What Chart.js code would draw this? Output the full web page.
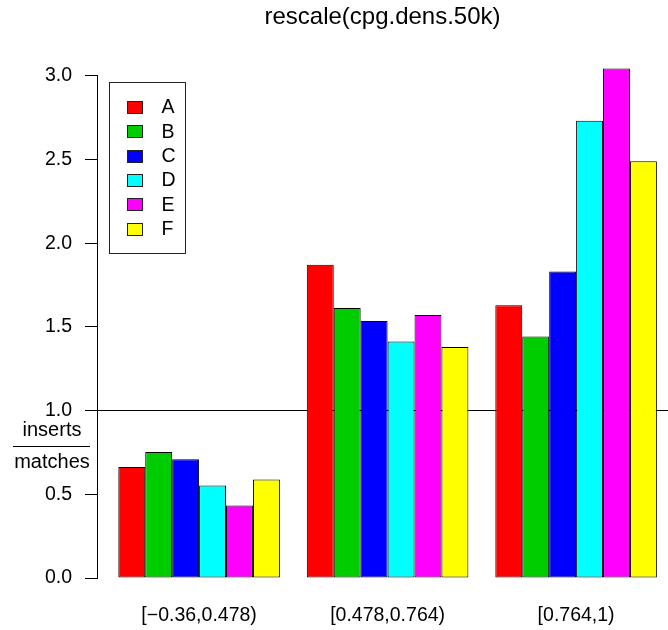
<!DOCTYPE html>
<html>
<head>
<meta charset="utf-8">
<title>rescale(cpg.dens.50k)</title>
<script src="https://cdn.jsdelivr.net/npm/chart.js@4.4.1/dist/chart.umd.min.js"></script>
<style>
  html, body { margin: 0; padding: 0; background: #fff; }
  canvas { display: block; }
</style>
</head>
<body>
<canvas id="chart" width="668" height="630"></canvas>
<script>
// data
const groupLabels = ['[\u22120.36,0.478)', '[0.478,0.764)', '[0.764,1)'];
const seriesNames = ['A', 'B', 'C', 'D', 'E', 'F'];
const seriesColors = ['#FF0000', '#00CD00', '#0000FF', '#00FFFF', '#FF00FF', '#FFFF00'];
const valuesA = [0.663, 1.872, 1.629];
const valuesB = [0.752, 1.613, 1.443];
const valuesC = [0.710, 1.535, 1.831];
const valuesD = [0.553, 1.413, 2.731];
const valuesE = [0.433, 1.571, 3.044];
const valuesF = [0.589, 1.380, 2.489];
const yTicks = [0, 0.5, 1, 1.5, 2, 2.5, 3];
const refLine = 1;
const chartTitle = 'rescale(cpg.dens.50k)';
const yLabelTop = 'inserts';
const yLabelBottom = 'matches';

const allValues = [valuesA, valuesB, valuesC, valuesD, valuesE, valuesF];
const FONT = '"Liberation Sans", Arial, Helvetica, sans-serif';

Chart.defaults.font.family = FONT;
Chart.defaults.color = '#000';

// fraction y label + boxed legend (R style)
const extras = {
    id: 'extras',
    afterDraw(chart) {
        const { ctx, chartArea } = chart;
        ctx.save();
        ctx.fillStyle = '#000';
        ctx.strokeStyle = '#000';
        ctx.lineWidth = 1;

        // inserts / matches
        const fy = Math.round(chartArea.bottom - 132) + 0.5;
        ctx.font = '20px ' + FONT;
        ctx.textAlign = 'center';
        ctx.textBaseline = 'alphabetic';
        ctx.fillText(yLabelTop, 52, fy - 11);
        ctx.fillText(yLabelBottom, 52, fy + 21);
        ctx.beginPath();
        ctx.moveTo(13, fy);
        ctx.lineTo(90, fy);
        ctx.stroke();

        // legend
        const bx = Math.round(chartArea.left + 12) + 0.5;
        const by = Math.round(chartArea.top + 6) + 0.5;
        ctx.strokeStyle = '#222';
        ctx.strokeRect(bx, by, 76, 171);
        ctx.font = '19.5px ' + FONT;
        ctx.textAlign = 'left';
        ctx.textBaseline = 'middle';
        chart.data.datasets.forEach((ds, i) => {
            const cy = by + 24.3 + 24.4 * i;
            const sy = Math.round(cy - 6) + 0.5;
            ctx.fillStyle = ds.backgroundColor;
            ctx.fillRect(bx + 18, sy, 15, 12);
            ctx.strokeStyle = '#222';
            ctx.strokeRect(bx + 18, sy, 15, 12);
            ctx.fillStyle = '#000';
            ctx.fillText(ds.label, bx + 52, cy + 1);
        });
        ctx.restore();
    }
};

new Chart(document.getElementById('chart').getContext('2d'), {
    type: 'bar',
    data: {
        datasets: seriesNames.map((name, s) => ({
            label: name,
            data: allValues[s].map((v, i) => ({ x: i + 1, y: v })),
            backgroundColor: seriesColors[s],
            borderColor: '#000',
            borderWidth: 1,
            borderSkipped: false,
            clip: false
        }))
    },
    options: {
        responsive: false,
        animation: false,
        categoryPercentage: 6 / 7,
        barPercentage: 1,
        plugins: {
            legend: { display: false },
            tooltip: { enabled: false },
            title: {
                display: true,
                text: chartTitle,
                fullSize: false,
                color: '#000',
                font: { size: 24, weight: 'normal' },
                padding: { top: 3, bottom: 44 }
            }
        },
        scales: {
            x: {
                type: 'linear',
                bounds: 'data',
                offset: false,
                min: 0.4584,
                max: 3.4875,
                grid: { display: false, drawTicks: false },
                border: { display: false },
                afterBuildTicks: (scale) => {
                    scale.ticks = groupLabels.map((_, i) => ({ value: i + 1 }));
                },
                afterFit: (scale) => { scale.height = 52; },
                ticks: {
                    autoSkip: false,
                    maxRotation: 0,
                    padding: 26,
                    font: { size: 19.5 },
                    callback: (v, i) => groupLabels[i]
                }
            },
            y: {
                min: 0,
                max: 3,
                z: 1,
                afterBuildTicks: (scale) => {
                    scale.ticks = yTicks.map(v => ({ value: v }));
                },
                afterFit: (scale) => { scale.width = 97; },
                border: { display: true, color: '#000', width: 1 },
                grid: {
                    drawOnChartArea: true,
                    drawTicks: true,
                    tickLength: 12,
                    tickColor: '#000',
                    lineWidth: 1,
                    color: (c) => (c.tick && c.tick.value === refLine ? '#000' : 'rgba(0,0,0,0)')
                },
                ticks: {
                    padding: 13,
                    font: { size: 19.5 },
                    callback: (v) => Number(v).toFixed(1)
                }
            }
        }
    },
    plugins: [extras]
});
</script>
</body>
</html>
